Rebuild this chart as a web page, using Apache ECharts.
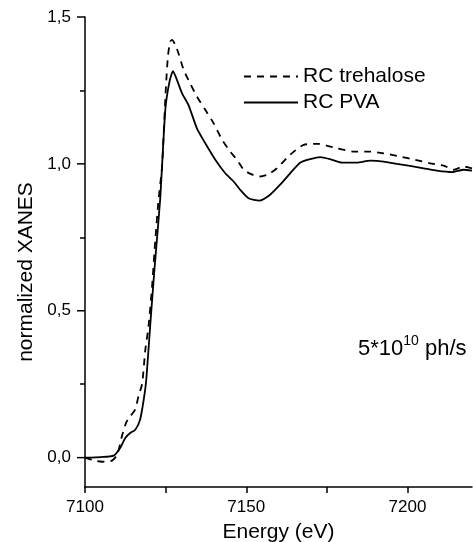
<!DOCTYPE html>
<html>
<head>
<meta charset="utf-8">
<script src="https://cdn.jsdelivr.net/npm/echarts@6/dist/echarts.min.js"></script>
<style>
html,body{margin:0;padding:0;background:#fff;}
#chart{width:473px;height:542px;}
</style>
</head>
<body>
<div id="chart"></div>
<script>
// Data
const seriesNames = ['RC trehalose', 'RC PVA'];
const energyPVA = [7100, 7105, 7108.9, 7110.9, 7112.5, 7114.0, 7115.6, 7117.1, 7118.2, 7119.0, 7120.2, 7121.6, 7123.3, 7124.9, 7126.2, 7127.3, 7128.5, 7130.1, 7132.1, 7134.7, 7137.3, 7140.4, 7143.5, 7146.1, 7148.1, 7150.7, 7154.1, 7157.4, 7160.5, 7163.6, 7166.7, 7169.8, 7172.9, 7176.0, 7179.7, 7184.3, 7188.4, 7192.6, 7196.7, 7200.8, 7205.0, 7209.1, 7213.8, 7217.4, 7220];
const valuesPVA = [0, 0.002, 0.007, 0.033, 0.067, 0.084, 0.095, 0.13, 0.197, 0.265, 0.447, 0.65, 0.878, 1.184, 1.28, 1.316, 1.286, 1.24, 1.20, 1.121, 1.07, 1.014, 0.968, 0.94, 0.912, 0.883, 0.875, 0.895, 0.929, 0.968, 1.004, 1.016, 1.023, 1.016, 1.004, 1.004, 1.011, 1.008, 1.0, 0.993, 0.985, 0.977, 0.972, 0.98, 0.977];
const energyTre = [7100, 7103.7, 7105.3, 7108.4, 7110.0, 7111.5, 7112.8, 7114.0, 7115.6, 7116.6, 7117.7, 7118.7, 7119.7, 7120.8, 7121.8, 7122.8, 7123.9, 7124.4, 7125.1, 7125.7, 7126.4, 7127.0, 7128.0, 7129.0, 7130.6, 7132.6, 7134.7, 7137.3, 7139.9, 7142.5, 7145.0, 7147.1, 7149.2, 7151.5, 7154.3, 7157.0, 7159.5, 7163.6, 7167.8, 7172.4, 7178.1, 7183.3, 7188.4, 7192.6, 7197.7, 7202.4, 7207.0, 7211.2, 7214.3, 7217.4, 7220];
const valuesTre = [0, -0.012, -0.014, -0.01, 0.01, 0.075, 0.12, 0.14, 0.165, 0.21, 0.25, 0.367, 0.447, 0.583, 0.741, 0.878, 0.99, 1.104, 1.263, 1.365, 1.416, 1.422, 1.405, 1.376, 1.32, 1.274, 1.229, 1.184, 1.138, 1.082, 1.042, 1.014, 0.98, 0.965, 0.957, 0.965, 0.985, 1.031, 1.065, 1.068, 1.053, 1.042, 1.042, 1.036, 1.025, 1.014, 1.002, 0.994, 0.98, 0.991, 0.985];
const xTickStep = 25;
const xLabelStep = 50;
const yMajorTicks = [0, 0.5, 1.0, 1.5];
const yMinorTicks = [0.25, 0.75, 1.25];
const xRange = [7100, 7220];
const yRange = [-0.1, 1.5];
const xTitle = 'Energy (eV)';
const yTitle = 'normalized XANES';

const FONT = '"Liberation Sans", Arial, sans-serif';
const zip = (xs, ys) => xs.map((x, i) => [x, ys[i]]);
const fmt = v => v.toFixed(1).replace('.', ',');
const tickStyle = {color: '#000', width: 1.5};
const MAJOR_TICK_LEN = 8;

const chart = echarts.init(document.getElementById('chart'), null, {renderer: 'canvas'});
chart.setOption({
  backgroundColor: '#fff',
  animation: false,
  grid: {left: 85, right: 1, top: 17, bottom: 55, containLabel: false, outerBoundsMode: 'none'},
  legend: {
    orient: 'vertical',
    left: 238,
    top: 61,
    itemWidth: 54,
    itemHeight: 14,
    itemGap: 5,
    data: seriesNames,
    itemStyle: {opacity: 0},
    textStyle: {fontFamily: FONT, fontSize: 21, color: '#000'}
  },
  xAxis: [{
    type: 'value', min: xRange[0], max: xRange[1], interval: xTickStep,
    name: xTitle, nameLocation: 'middle', nameGap: 35,
    nameTextStyle: {fontFamily: FONT, fontSize: 21, color: '#000'},
    axisLine: {show: true, onZero: false, lineStyle: {color: '#000', width: 1.5}},
    axisTick: {show: true, inside: false, length: 6, lineStyle: tickStyle},
    axisLabel: {show: true, inside: false, margin: 12, fontFamily: FONT, fontSize: 17, color: '#000', showMaxLabel: false,
      formatter: v => (Math.abs(v % xLabelStep) < 1e-6 ? String(v) : '')},
    splitLine: {show: false}
  }],
  yAxis: [{
    type: 'value', min: yRange[0], max: yRange[1], position: 'left',
    name: yTitle, nameLocation: 'middle', nameGap: 47,
    nameTextStyle: {fontFamily: FONT, fontSize: 21, color: '#000', padding: [0, 40, 0, 0]},
    axisLine: {show: true, onZero: false, lineStyle: {color: '#000', width: 1.5}},
    axisTick: {show: false},
    axisLabel: {show: true, margin: 14, fontFamily: FONT, fontSize: 17, color: '#000', formatter: fmt, customValues: yMajorTicks},
    splitLine: {show: false}
  }, {
    // minor ticks
    type: 'value', min: yRange[0], max: yRange[1], position: 'left', offset: 0,
    axisLine: {show: false, onZero: false},
    axisTick: {show: true, inside: false, length: 5, lineStyle: tickStyle, customValues: yMinorTicks},
    axisLabel: {show: false},
    splitLine: {show: false}
  }],
  graphic: [{
    type: 'text',
    left: 358,
    top: 334,
    style: {
      text: '{m|5*10}{s|10}{m| ph/s}',
      fill: '#000',
      rich: {
        m: {fontFamily: FONT, fontSize: 22, fill: '#000', lineHeight: 26, verticalAlign: 'bottom'},
        s: {fontFamily: FONT, fontSize: 14, fill: '#000', lineHeight: 26, verticalAlign: 'top'}
      }
    }
  }],
  series: [{
    name: seriesNames[0], type: 'line', xAxisIndex: 0, yAxisIndex: 0,
    data: zip(energyTre, valuesTre),
    symbol: 'none', smooth: 0.2,
    lineStyle: {color: '#000', width: 1.8, type: [7, 6]},
    itemStyle: {color: '#000'}
  }, {
    name: seriesNames[1], type: 'line', xAxisIndex: 0, yAxisIndex: 0,
    data: zip(energyPVA, valuesPVA),
    symbol: 'none', smooth: 0.2,
    lineStyle: {color: '#000', width: 1.8, type: 'solid'},
    itemStyle: {color: '#000'}
  }, {
    // major y-axis tick marks, placed through the axis scale
    name: 'yMajorTickMarks', type: 'custom', xAxisIndex: 0, yAxisIndex: 0,
    coordinateSystem: 'cartesian2d', clip: false, silent: true, z: 5,
    data: yMajorTicks.map(v => [xRange[0], v]),
    encode: {x: 0, y: 1},
    renderItem: (params, api) => {
      const p = api.coord([api.value(0), api.value(1)]);
      return {
        type: 'line',
        shape: {x1: p[0] - MAJOR_TICK_LEN, y1: p[1], x2: p[0], y2: p[1]},
        style: {stroke: '#000', lineWidth: 1.5}
      };
    }
  }]
});
</script>
</body>
</html>
